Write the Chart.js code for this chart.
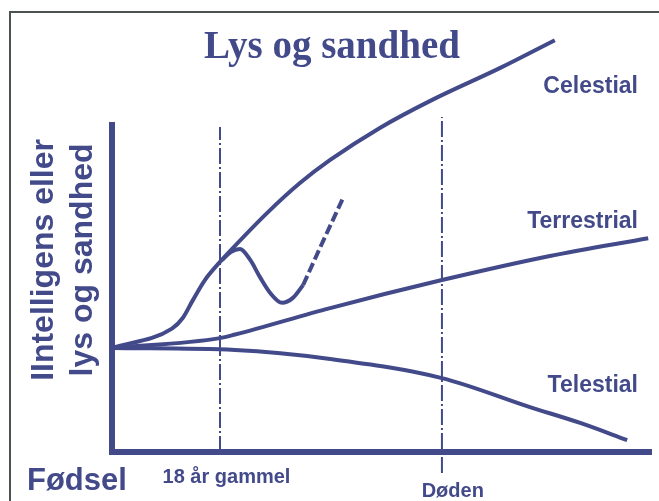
<!DOCTYPE html>
<html>
<head>
<meta charset="utf-8">
<script src="https://cdn.jsdelivr.net/npm/chart.js@4"></script>
<style>
  html, body { margin: 0; padding: 0; background: #fff; }
  #wrap { width: 659px; height: 501px; }
</style>
</head>
<body>
<div id="wrap"><canvas id="chart" width="659" height="501"></canvas></div>
<script>
// x: 0 = Fødsel, 100 = end of axis; y: 0 = axis, 100 = top of y axis
const celestial = [[0, 31.5], [11.1, 37.4], [13.1, 40.6], [15.0, 46.1], [17.2, 52.1],
    [20.0, 57.6], [22.2, 61.5], [28.7, 72.4], [34.8, 81.5], [40.4, 88.5], [49.6, 98.2],
    [59.3, 106.7], [71.9, 116.4], [82.0, 124.8]];
const fall = [[20.4, 58.2], [22.0, 60.6], [23.7, 61.5], [25.6, 58.2], [27.4, 53.0], [29.3, 48.2],
    [31.5, 45.2], [33.5, 46.7], [35.4, 50.6]];
const recovery = [[35.4, 50.6], [38.5, 61.8], [42.8, 77.0]];
const terrestrial = [[0, 31.5], [20.0, 34.5], [22.8, 35.6], [40.4, 43.6], [61.1, 52.1],
    [81.1, 59.4], [99.3, 64.8]];
const telestial = [[0, 31.5], [22.8, 30.9], [40.4, 28.2], [61.1, 22.4], [77.4, 13.6], [86.7, 8.8],
    [95.4, 3.6]];
const axes = [[0, 100], [0, 0], [100, 0]];
const age18 = [[20, 0], [20, 98.5]];
const death = [[61.1, -6.4], [61.1, 101.5]];

const navy = '#434a8a';
const pts = arr => arr.map(([x, y]) => ({ x, y }));

const curve = (label, data, extra) => Object.assign({
    label,
    data: pts(data),
    borderColor: navy,
    borderWidth: 4,
    pointRadius: 0,
    cubicInterpolationMode: 'monotone',
    clip: false,
}, extra || {});

// labels, frame and title drawn on top of the scales
const textPlugin = {
    id: 'texts',
    beforeDraw(chart) {
        const ctx = chart.ctx;
        ctx.save();
        ctx.strokeStyle = '#4c5151';
        ctx.lineWidth = 2;
        ctx.beginPath();
        ctx.moveTo(10, chart.height);
        ctx.lineTo(10, 12);
        ctx.lineTo(chart.width, 12);
        ctx.stroke();
        ctx.restore();
    },
    afterDraw(chart) {
        const { ctx, scales: { x, y } } = chart;
        const px = v => x.getPixelForValue(v);
        const py = v => y.getPixelForValue(v);
        ctx.save();
        ctx.fillStyle = navy;
        ctx.textBaseline = 'alphabetic';

        ctx.font = 'bold 39px "Liberation Serif"';
        ctx.textAlign = 'center';
        ctx.fillText('Lys og sandhed', 332, 58);

        ctx.font = 'bold 23px "Liberation Sans"';
        ctx.textAlign = 'right';
        ctx.fillText('Celestial', px(97.4), py(108.8));
        ctx.fillText('Terrestrial', px(97.4), py(67.9));
        ctx.fillText('Telestial', px(97.4), py(18.2));

        ctx.font = 'bold 20px "Liberation Sans"';
        ctx.textAlign = 'center';
        ctx.fillText('18 år gammel', px(21.2), py(-9.4));
        ctx.fillText('Døden', px(63.1), py(-13.6));

        ctx.font = 'bold 31px "Liberation Sans"';
        ctx.textAlign = 'left';
        ctx.fillText('Fødsel', 27, py(-11.5));

        // y axis title, two rotated lines
        ctx.font = 'bold 32px "Liberation Sans"';
        ctx.textAlign = 'center';
        [['IIntelligens eller', 53], ['lys og sandhed', 92]].forEach(([t, bx]) => {
            ctx.save();
            ctx.translate(bx, py(58.2));
            ctx.rotate(-Math.PI / 2);
            ctx.fillText(t, 0, 0);
            ctx.restore();
        });
        ctx.restore();
    }
};

new Chart(document.getElementById('chart'), {
    type: 'line',
    data: {
        datasets: [
            curve('Akser', axes, { borderWidth: 6, cubicInterpolationMode: 'default', tension: 0, borderJoinStyle: 'miter' }),
            curve('18 år gammel', age18, { borderWidth: 2, borderDash: [16, 3, 2, 3], cubicInterpolationMode: 'default', tension: 0 }),
            curve('Døden', death, { borderWidth: 2, borderDash: [16, 3, 2, 3], cubicInterpolationMode: 'default', tension: 0 }),
            curve('Celestial', celestial),
            curve('Fald', fall),
            curve('Omvendelse', recovery, { borderDash: [10, 4] }),
            curve('Terrestrial', terrestrial),
            curve('Telestial', telestial),
        ]
    },
    options: {
        responsive: false,
        animation: false,
        layout: { padding: { left: 112, right: 7, top: 122, bottom: 49 } },
        plugins: {
            legend: { display: false },
            tooltip: { enabled: false },
        },
        scales: {
            x: { type: 'linear', min: 0, max: 100, display: false },
            y: { type: 'linear', min: 0, max: 100, display: false },
        }
    },
    plugins: [textPlugin]
});
</script>
</body>
</html>
